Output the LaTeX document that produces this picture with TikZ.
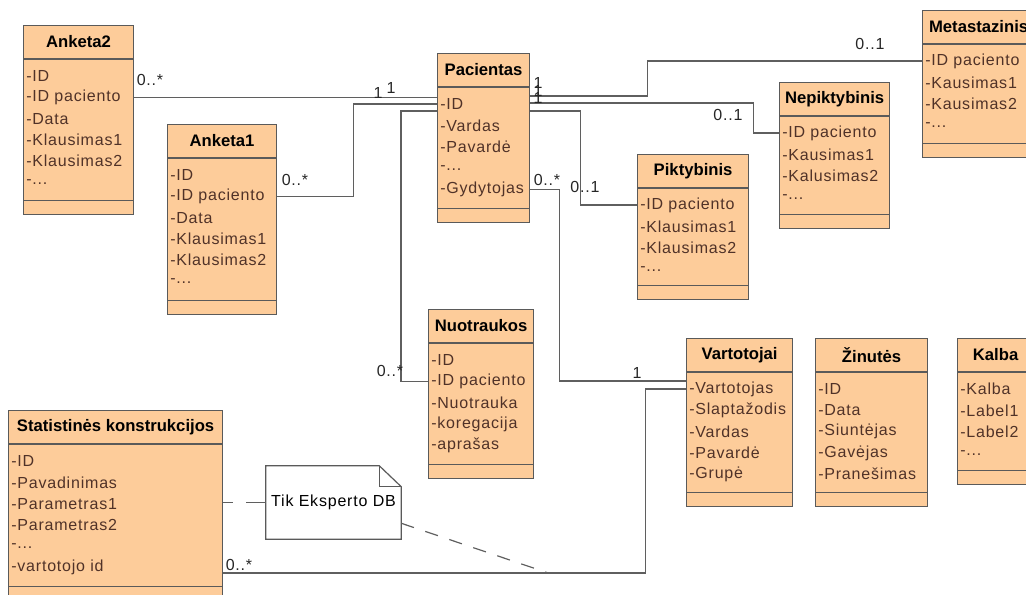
\documentclass[tikz,border=0pt]{standalone}
\usepackage{fontspec}
\setmainfont{Liberation Sans}
\newfontfamily\attrfont[LetterSpace=5]{Liberation Sans}
\usetikzlibrary{calc}
\definecolor{umlFill}{RGB}{253,204,154}
\definecolor{umlLine}{RGB}{90,90,90}
\definecolor{umlText}{RGB}{80,50,40}
\definecolor{assocGray}{RGB}{95,95,95}

\tikzset{
  classbox/.style={draw=umlLine, fill=umlFill, line width=0.9pt, inner sep=0pt},
  classtitle/.style={font=\fontsize{12.5}{14}\selectfont\bfseries, text=black, inner sep=0pt},
  attr/.style={font=\attrfont\fontsize{12}{14}\selectfont, text=umlText, inner sep=0pt, anchor=west},
  assoc/.style={draw=assocGray, line width=0.9pt},
  mult/.style={font=\attrfont\fontsize{12}{14}\selectfont, text=black!85, inner sep=0pt},
  notebox/.style={draw=umlLine, fill=white, line width=0.9pt},
}

% "..." placeholder row (kept out of the \foreach lists)
\newcommand{\moredots}{...}

% class box: name, left, top, width, height, title, attributes
\newcommand{\umlclass}[7]{%
  \node[classbox, anchor=north west, minimum width=#4*0.75pt, minimum height=#5*0.75pt] (#1) at (#2,#3) {};
  \draw[umlLine, line width=0.9pt] ($(#1.north west)+(0,34)$) -- ($(#1.north east)+(0,34)$);
  \draw[umlLine, line width=0.9pt] ($(#1.south west)+(0,-15)$) -- ($(#1.south east)+(0,-15)$);
  \node[classtitle] (#1-title) at ($(#1.north)+(0,17)$) {#6};
  \foreach \field [count=\i] in {#7}
    \node[attr] (#1-\i) at ($(#1.north west)+(3,{51+(\i-1)*21.3})$) {\field};
}

\begin{document}
\begin{tikzpicture}[x=0.75pt, y=-0.75pt]
  \useasboundingbox (0,0) rectangle (1026,594);
  \clip (0,0) rectangle (1026,594);

  % classes
  \umlclass{anketa2}{23}{25}{110}{189}{Anketa2}{-ID,-ID paciento,-Data,-Klausimas1,-Klausimas2,-\moredots}
  \umlclass{anketa1}{167}{124}{109}{190}{Anketa1}{-ID,-ID paciento,-Data,-Klausimas1,-Klausimas2,-\moredots}
  \umlclass{pacientas}{437}{53}{92}{169}{Pacientas}{-ID,-Vardas,-Pavardė,-\moredots,-Gydytojas}
  \umlclass{metastazinis}{922}{10}{112}{147}{Metastazinis}{-ID paciento,-Kausimas1,-Kausimas2,-\moredots}
  \umlclass{nepiktybinis}{779}{82}{110}{146}{Nepiktybinis}{-ID paciento,-Kausimas1,-Kalusimas2,-\moredots}
  \umlclass{piktybinis}{637}{154}{111}{145}{Piktybinis}{-ID paciento,-Klausimas1,-Klausimas2,-\moredots}
  \umlclass{nuotraukos}{428}{309}{105}{169}{Nuotraukos}{-ID,-ID paciento,-Nuotrauka,-koregacija,-aprašas}
  \umlclass{vartotojai}{686}{338}{106}{168}{Vartotojai}{-Vartotojas,-Slaptažodis,-Vardas,-Pavardė,-Grupė}
  \umlclass{zinutes}{815}{338}{112}{168}{Žinutės}{-ID,-Data,-Siuntėjas,-Gavėjas,-Pranešimas}
  \umlclass{kalba}{957}{338}{76}{146}{Kalba}{-Kalba,-Label1,-Label2,-\moredots}
  \umlclass{statistines}{8}{410}{214}{190}{Statistinės konstrukcijos}{-ID,-Pavadinimas,-Parametras1,-Parametras2,-\moredots,-vartotojo id}

  % note
  \node[minimum width=135*0.75pt, minimum height=73*0.75pt, inner sep=0pt] (note) at (333.5,502.5) {};
  \filldraw[notebox] (note.north west) -- ($(note.north east)+(-22,0)$) -- ($(note.north east)+(0,21)$)
    -- (note.south east) -- (note.south west) -- cycle;
  \draw[notebox, fill=none] ($(note.north east)+(-22,0)$) |- ($(note.north east)+(0,21)$);
  \node[attr, anchor=center, text=black] (note-text) at (note) {Tik Eksperto DB};

  % associations
  \draw[assoc] (anketa2.east |- anketa2-2) -- (pacientas.west |- anketa2-2);
  \draw[assoc] (anketa1.east |- anketa1-2) -- ++(76,0) |- (pacientas.west |- pacientas-1);
  \draw[assoc] ($(pacientas.north west)+(0,58)$) -- ++(-36,0) |- (nuotraukos.west |- nuotraukos-2);
  \draw[assoc] ($(pacientas.north east)+(0,43)$) -- ++(117,0) |- (metastazinis.west |- metastazinis-1);
  \draw[assoc] ($(pacientas.north east)+(0,50)$) -- ++(223,0) |- (nepiktybinis.west |- nepiktybinis-1);
  \draw[assoc] ($(pacientas.north east)+(0,58)$) -- ++(50,0) |- (piktybinis.west |- piktybinis-1);
  \draw[assoc] (pacientas.east |- pacientas-5) -- ++(29,0) |- ($(vartotojai.north west)+(0,43)$);
  \draw[assoc] ($(statistines.north east)+(0,163)$) -- ++(422,0) |- (vartotojai.west |- vartotojai-1);

  % note links
  \coordinate (noteend) at ($(statistines.north east)+(325,163)$);
  \draw[assoc, dash pattern=on 7.5pt off 9.75pt on 15pt off 9.75pt] (statistines.east |- note) -- (note.west);
  \draw[assoc, dash pattern=on 10pt off 9pt] ($(note.south east)+(0,-16)$) -- (noteend);

  % multiplicities
  \foreach \x/\y/\m [count=\i] in {150/80/0..*, 378/93/1, 391/88/1, 295/180/0..*, 390/371/0..*,
      538/83/1, 538/91/1, 538/98/1, 870/44/0..1, 728/115/0..1, 585/187/0..1, 547/180/0..*,
      637/373/1, 239/565/0..*}
    \node[mult] (mult\i) at (\x,\y) {\m};
\end{tikzpicture}
\end{document}
